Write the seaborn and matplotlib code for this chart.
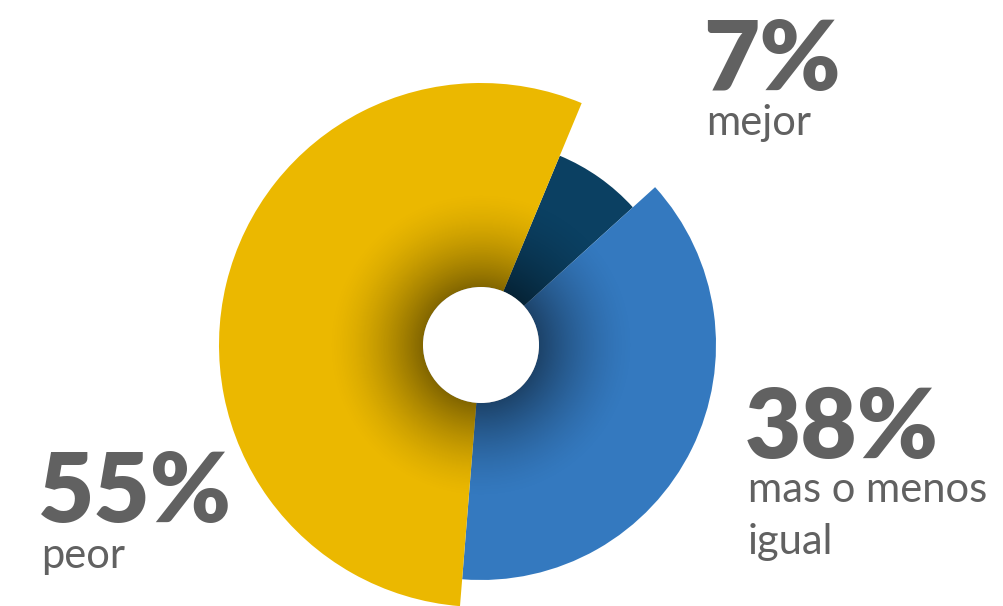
#Donut chart with a different radius for each slice
#three pie calls so each slice can have its own length

import matplotlib
matplotlib.use("Agg")
import matplotlib.pyplot as plt
import seaborn as sns
import numpy as np
from matplotlib.patches import Circle


#data
labels = ["mejor", "mas o menos\nigual", "peor"]
values = [7, 38, 55]
pct_labels = ["7%", "38%", "55%"]
colors = ["#0b4062", "#3479bf", "#ebb800"]
radii = [205, 235, 262] #in pixels, each slice sticks out by a different amount

sns.set_style("white")
plt.rcParams['font.family'] = ['Lato', 'DejaVu Sans']

fig = plt.figure(figsize=(10.04, 6.06), dpi=100)
ax = fig.add_axes([0, 0, 1, 1])

H = 606 # figure height in px, to turn picture coords into axis coords
cx, cy = 481, H - 345
hole = 58

#one pie per slice, the other slices are left see-through
for i in range(len(values)):
    cols = [colors[j] if j == i else "none" for j in range(len(values))]
    ax.pie(values, radius=radii[i], center=(cx, cy), startangle=67.4,
           counterclock=False, colors=cols,
           wedgeprops=dict(width=radii[i] - hole, linewidth=0))

#soft dark shadow round the hole - a small rgba image with a radial fade
R = 155
g = np.linspace(-R, R, 311)
xx, yy = np.meshgrid(g, g)
t = np.clip((np.hypot(xx, yy) - hole) / (R - hole), 0, 1)
shade = np.zeros((311, 311, 4))
shade[..., 3] = 0.45 * (1 - t) ** 1.6
ax.imshow(shade, extent=(cx - R, cx + R, cy - R, cy + R), origin="lower",
          interpolation="bilinear", zorder=2)
ax.add_patch(Circle((cx, cy), hole, facecolor="white", linewidth=0, zorder=3))

#labels, big number on top, word(s) under it
grey = "#616161"
big = 70
small = 30
#where each label goes: x of left edge, baseline of the number, baseline of first word line
spots = [(703, 90, 135), (745, 458, 502), (38, 522, 568)]
for pct, lab, (x, yb, yl) in zip(pct_labels, labels, spots):
    ax.text(x, H - yb, pct, fontsize=big, fontweight="heavy", color=grey, ha="left", va="baseline")
    for k, line in enumerate(lab.split("\n")):
        ax.text(x + 3, H - yl - k * 52, line, fontsize=small, color=grey, ha="left", va="baseline")

ax.set_xlim(0, 1004)
ax.set_ylim(0, H)
ax.set_aspect("auto")
ax.axis("off")

plt.savefig("out.png", dpi=100)
